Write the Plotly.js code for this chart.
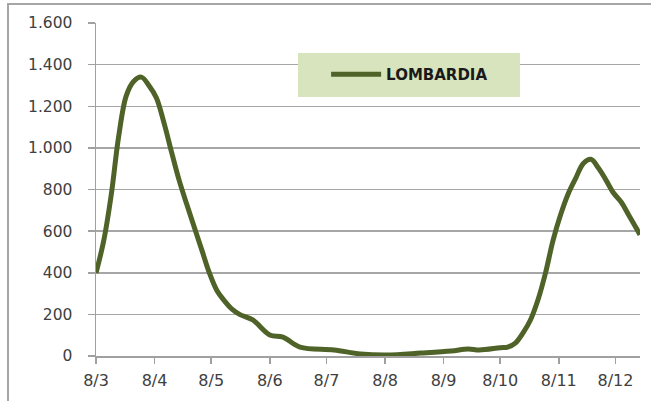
<!DOCTYPE html>
<html>
<head>
<meta charset="utf-8">
<script src="https://cdn.plot.ly/plotly-3.0.1.min.js"></script>
<style>
  html, body { margin: 0; padding: 0; background: #fff; }
  #wrap { position: relative; width: 651px; height: 401px; overflow: hidden; }
  #chart { width: 651px; height: 401px; }
  #frame { position: absolute; left: 7px; top: 3px; width: 660px; height: 420px;
           border-left: 2px solid #a6a6a6; border-top: 2px solid #a6a6a6; pointer-events: none; }
</style>
</head>
<body>
<div id="wrap">
  <div id="chart"></div>
  <div id="frame"></div>
</div>
<script>
// ---- data ----
const seriesName = 'LOMBARDIA';
const dates = [
  '2020-03-08','2020-03-12','2020-03-16','2020-03-20','2020-03-24','2020-03-28',
  '2020-04-01','2020-04-05','2020-04-09','2020-04-13','2020-04-17','2020-04-21',
  '2020-04-25','2020-04-29','2020-05-03','2020-05-07','2020-05-11','2020-05-15',
  '2020-05-19','2020-05-23','2020-05-30','2020-06-08',
  '2020-06-15','2020-06-24','2020-07-12','2020-07-26','2020-08-09','2020-08-27',
  '2020-09-12','2020-09-21','2020-09-27','2020-10-08','2020-10-12','2020-10-16',
  '2020-10-20','2020-10-24','2020-10-28','2020-11-01','2020-11-05','2020-11-09',
  '2020-11-13','2020-11-17','2020-11-21','2020-11-25','2020-11-29','2020-12-03',
  '2020-12-07','2020-12-11','2020-12-15','2020-12-19','2020-12-21'
];
const values = [
  399, 550, 770, 1055, 1250, 1320,
  1340, 1300, 1240, 1120, 980, 845,
  730, 620, 510, 400, 315, 265,
  225, 200, 173, 101,
  91, 43, 29, 10, 5, 14,
  24, 34, 29, 40, 43, 62,
  110, 173, 270, 400, 557, 680,
  780, 855, 925, 945, 903, 845,
  783, 740, 678, 615, 582
];
const xTickVals = ['2020-03-08','2020-04-08','2020-05-08','2020-06-08','2020-07-08',
                   '2020-08-08','2020-09-08','2020-10-08','2020-11-08','2020-12-08'];
const xTickText = ['8/3','8/4','8/5','8/6','8/7','8/8','8/9','8/10','8/11','8/12'];
const yTickVals = [0, 200, 400, 600, 800, 1000, 1200, 1400, 1600];
const yTickText = ['0','200','400','600','800','1.000','1.200','1.400','1.600'];

const trace = {
  x: dates, y: values, name: seriesName,
  type: 'scatter', mode: 'lines',
  line: { color: '#4f6228', width: 5, shape: 'spline', smoothing: 1 },
  hoverinfo: 'skip'
};

const layout = {
  width: 651, height: 401,
  margin: { l: 96, r: 11, t: 23, b: 45 },
  paper_bgcolor: '#ffffff', plot_bgcolor: '#ffffff',
  font: { family: 'DejaVu Sans, Verdana, sans-serif', color: '#404040', size: 14 },
  showlegend: true,
  legend: {
    x: 0.423, y: 0.845, xanchor: 'left', yanchor: 'middle',
    bgcolor: 'rgba(0,0,0,0)', borderwidth: 0, itemwidth: 50,
    font: { family: 'DejaVu Sans, Verdana, sans-serif', size: 15, color: '#1a1a1a', weight: 'bold' }
  },
  shapes: [{
    type: 'rect', xref: 'paper', yref: 'paper', layer: 'above',
    x0: (298 - 96) / 544, x1: (520 - 96) / 544,
    y0: (356 - 97) / 333, y1: (356 - 53) / 333,
    fillcolor: '#d7e4bd', line: { width: 0 }
  }],
  xaxis: {
    type: 'date', range: ['2020-03-08', '2020-12-21'],
    tickmode: 'array', tickvals: xTickVals, ticktext: xTickText,
    ticks: 'outside', ticklen: 6, tickcolor: '#a0a0a0', tickwidth: 1.5,
    ticklabelstandoff: 3,
    showgrid: false, showline: true, linecolor: '#a0a0a0', linewidth: 1.5,
    zeroline: false, fixedrange: true,
    tickfont: { size: 16, color: '#404040' }
  },
  yaxis: {
    range: [0, 1600],
    tickmode: 'array', tickvals: yTickVals, ticktext: yTickText,
    ticks: 'outside', ticklen: 7, tickcolor: '#a0a0a0', tickwidth: 1.5,
    ticklabelstandoff: 12,
    showgrid: true, gridcolor: '#a6a6a6', gridwidth: 1.5,
    showline: true, linecolor: '#a0a0a0', linewidth: 1.5,
    zeroline: false, fixedrange: true,
    tickfont: { size: 15.5, color: '#404040' }
  }
};

Plotly.newPlot('chart', [trace], layout, { displayModeBar: false, staticPlot: true });
</script>
</body>
</html>
